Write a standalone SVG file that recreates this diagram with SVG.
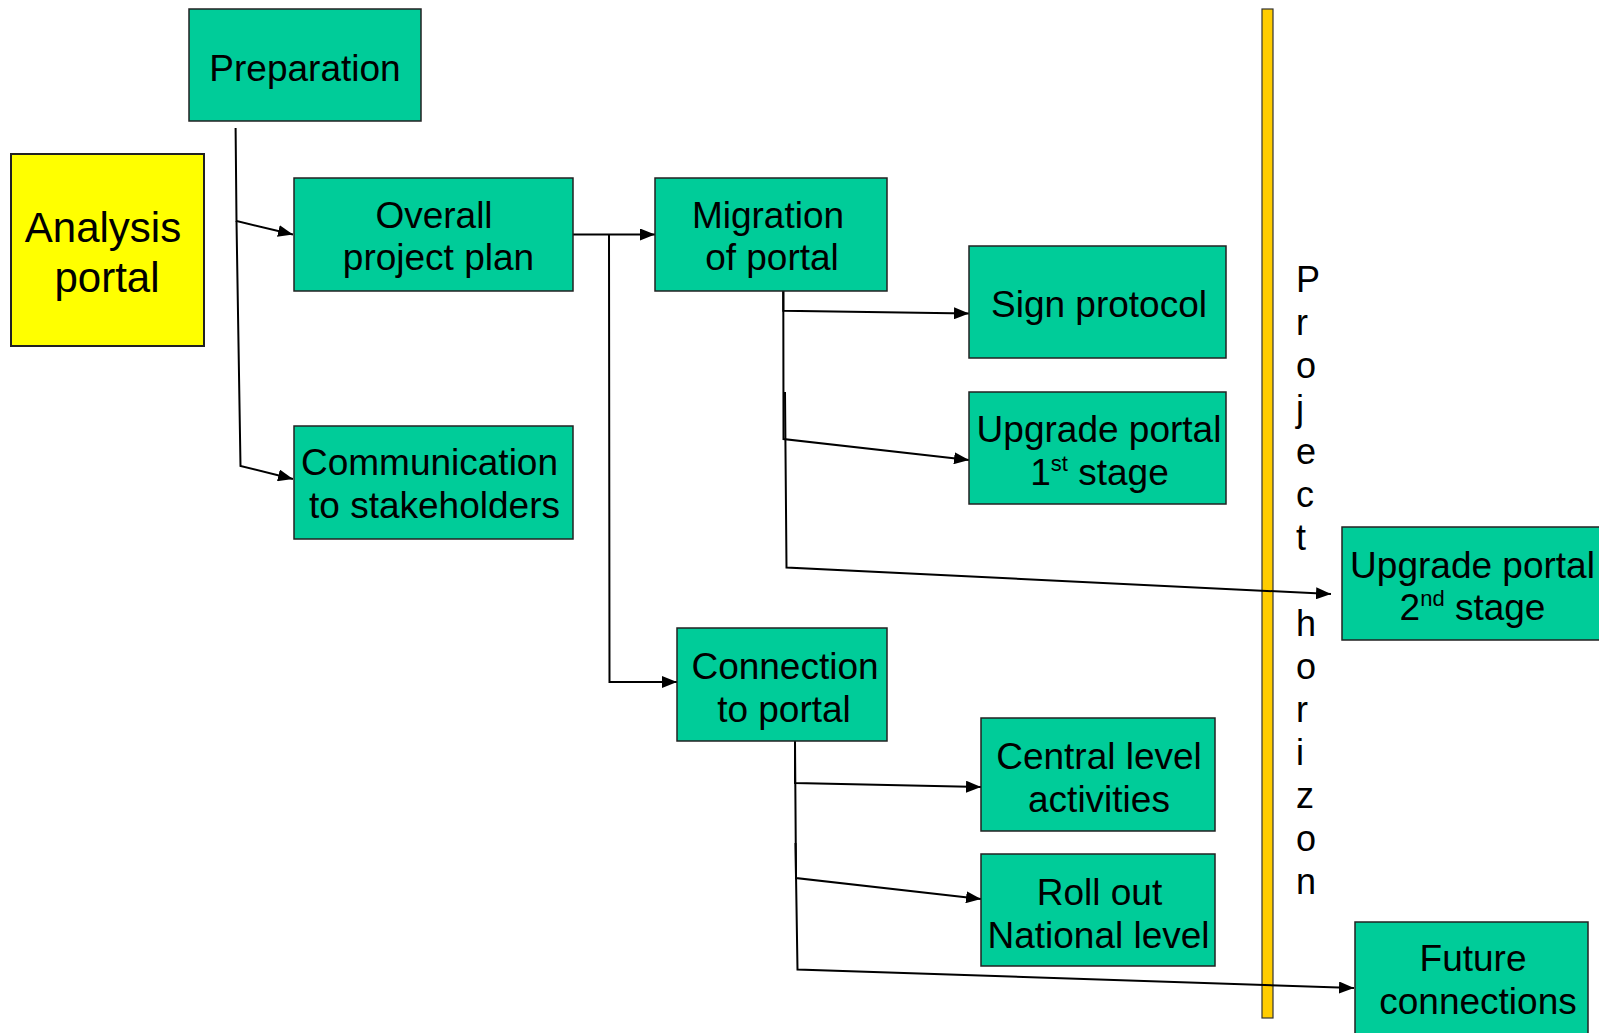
<svg xmlns="http://www.w3.org/2000/svg" width="1599" height="1033" viewBox="0 0 1599 1033">
<style>
  .box { fill: #00CC99; stroke: #222; stroke-width: 1.5; }
  .yel { fill: #FFFF00; stroke: #222; stroke-width: 2; }
  .bar { fill: #FFCC00; stroke: #333; stroke-width: 1.2; }
  .t { font-family: "Liberation Sans", Arial, sans-serif; font-size: 37px; fill: #000; text-anchor: middle; }
  .big { font-size: 42px; }
  .v { font-family: "Liberation Sans", Arial, sans-serif; font-size: 36px; fill: #000; text-anchor: start; }
  .sup { font-size: 22px; }
  .c { fill: none; stroke: #000; stroke-width: 2; }
</style>
<defs>
  <marker id="ah" markerUnits="userSpaceOnUse" markerWidth="16" markerHeight="12" viewBox="0 0 16 12" refX="15" refY="6" orient="auto">
    <path d="M0,0 L15,6 L0,12 z" fill="#000"/>
  </marker>
</defs>
<rect width="1599" height="1033" fill="#fff"/>

<g id="horizon-bar">
  <rect class="bar" x="1262" y="9" width="11" height="1009"/>
</g>

<g id="connectors">
  <polyline class="c" points="235.6,128 236.5,221 293,234.5" marker-end="url(#ah)"/>
  <polyline class="c" points="236.5,221 240.5,466 293,479" marker-end="url(#ah)"/>
  <polyline class="c" points="573,234.5 655,234.5" marker-end="url(#ah)"/>
  <polyline class="c" points="609,234.5 609.5,682 677,682" marker-end="url(#ah)"/>
  <polyline class="c" points="783.3,291 783.3,310.7 969,313.5" marker-end="url(#ah)"/>
  <polyline class="c" points="783.3,291 783.5,439 969,460" marker-end="url(#ah)"/>
  <polyline class="c" points="785,392 786.5,567.5 1331,594" marker-end="url(#ah)"/>
  <polyline class="c" points="795,741 795,783 981,787" marker-end="url(#ah)"/>
  <polyline class="c" points="795,741 796,878 981,899" marker-end="url(#ah)"/>
  <polyline class="c" points="795.5,843 797.5,969.5 1354,988" marker-end="url(#ah)"/>
</g>

<g id="preparation">
  <rect class="box" x="189" y="9" width="232" height="112"/>
  <text class="t" x="305" y="80.5">Preparation</text>
</g>
<g id="analysis-portal">
  <rect class="yel" x="11" y="154" width="193" height="192"/>
  <text class="t big" x="103" y="241.5">Analysis</text>
  <text class="t big" x="107" y="292">portal</text>
</g>
<g id="overall-plan">
  <rect class="box" x="294" y="178" width="279" height="113"/>
  <text class="t" x="434" y="227.5">Overall</text>
  <text class="t" x="438.5" y="270">project plan</text>
</g>
<g id="communication">
  <rect class="box" x="294" y="426" width="279" height="113"/>
  <text class="t" x="429.5" y="475">Communication</text>
  <text class="t" x="434.5" y="518">to stakeholders</text>
</g>
<g id="migration">
  <rect class="box" x="655" y="178" width="232" height="113"/>
  <text class="t" x="768" y="227.5">Migration</text>
  <text class="t" x="772" y="270">of portal</text>
</g>
<g id="sign-protocol">
  <rect class="box" x="969" y="246" width="257" height="112"/>
  <text class="t" x="1099" y="317">Sign protocol</text>
</g>
<g id="upgrade-1">
  <rect class="box" x="969" y="392" width="257" height="112"/>
  <text class="t" x="1099" y="441.5">Upgrade portal</text>
  <text class="t" x="1099.5" y="484.5">1<tspan class="sup" dy="-14">st</tspan><tspan dy="14"> stage</tspan></text>
</g>
<g id="upgrade-2">
  <rect class="box" x="1342" y="527" width="258" height="113"/>
  <text class="t" x="1472.5" y="577.5">Upgrade portal</text>
  <text class="t" x="1472.5" y="620">2<tspan class="sup" dy="-14">nd</tspan><tspan dy="14"> stage</tspan></text>
</g>
<g id="connection">
  <rect class="box" x="677" y="628" width="210" height="113"/>
  <text class="t" x="785" y="679">Connection</text>
  <text class="t" x="784" y="722">to portal</text>
</g>
<g id="central-level">
  <rect class="box" x="981" y="718" width="234" height="113"/>
  <text class="t" x="1099" y="769">Central level</text>
  <text class="t" x="1099" y="812">activities</text>
</g>
<g id="roll-out">
  <rect class="box" x="981" y="854" width="234" height="112"/>
  <text class="t" x="1099.5" y="904.5">Roll out</text>
  <text class="t" x="1098.5" y="947.5">National level</text>
</g>
<g id="future-connections">
  <rect class="box" x="1355" y="922" width="233" height="125"/>
  <text class="t" x="1473" y="971">Future</text>
  <text class="t" x="1478" y="1014">connections</text>
</g>

<g id="project-horizon-label">
  <text class="v">
    <tspan x="1296" y="292">P</tspan>
    <tspan x="1296" y="335">r</tspan>
    <tspan x="1296" y="378">o</tspan>
    <tspan x="1296" y="421">j</tspan>
    <tspan x="1296" y="464">e</tspan>
    <tspan x="1296" y="507">c</tspan>
    <tspan x="1296" y="550">t</tspan>
    <tspan x="1296" y="636">h</tspan>
    <tspan x="1296" y="679">o</tspan>
    <tspan x="1296" y="722">r</tspan>
    <tspan x="1296" y="765">i</tspan>
    <tspan x="1296" y="808">z</tspan>
    <tspan x="1296" y="851">o</tspan>
    <tspan x="1296" y="894">n</tspan>
  </text>
</g>
</svg>
